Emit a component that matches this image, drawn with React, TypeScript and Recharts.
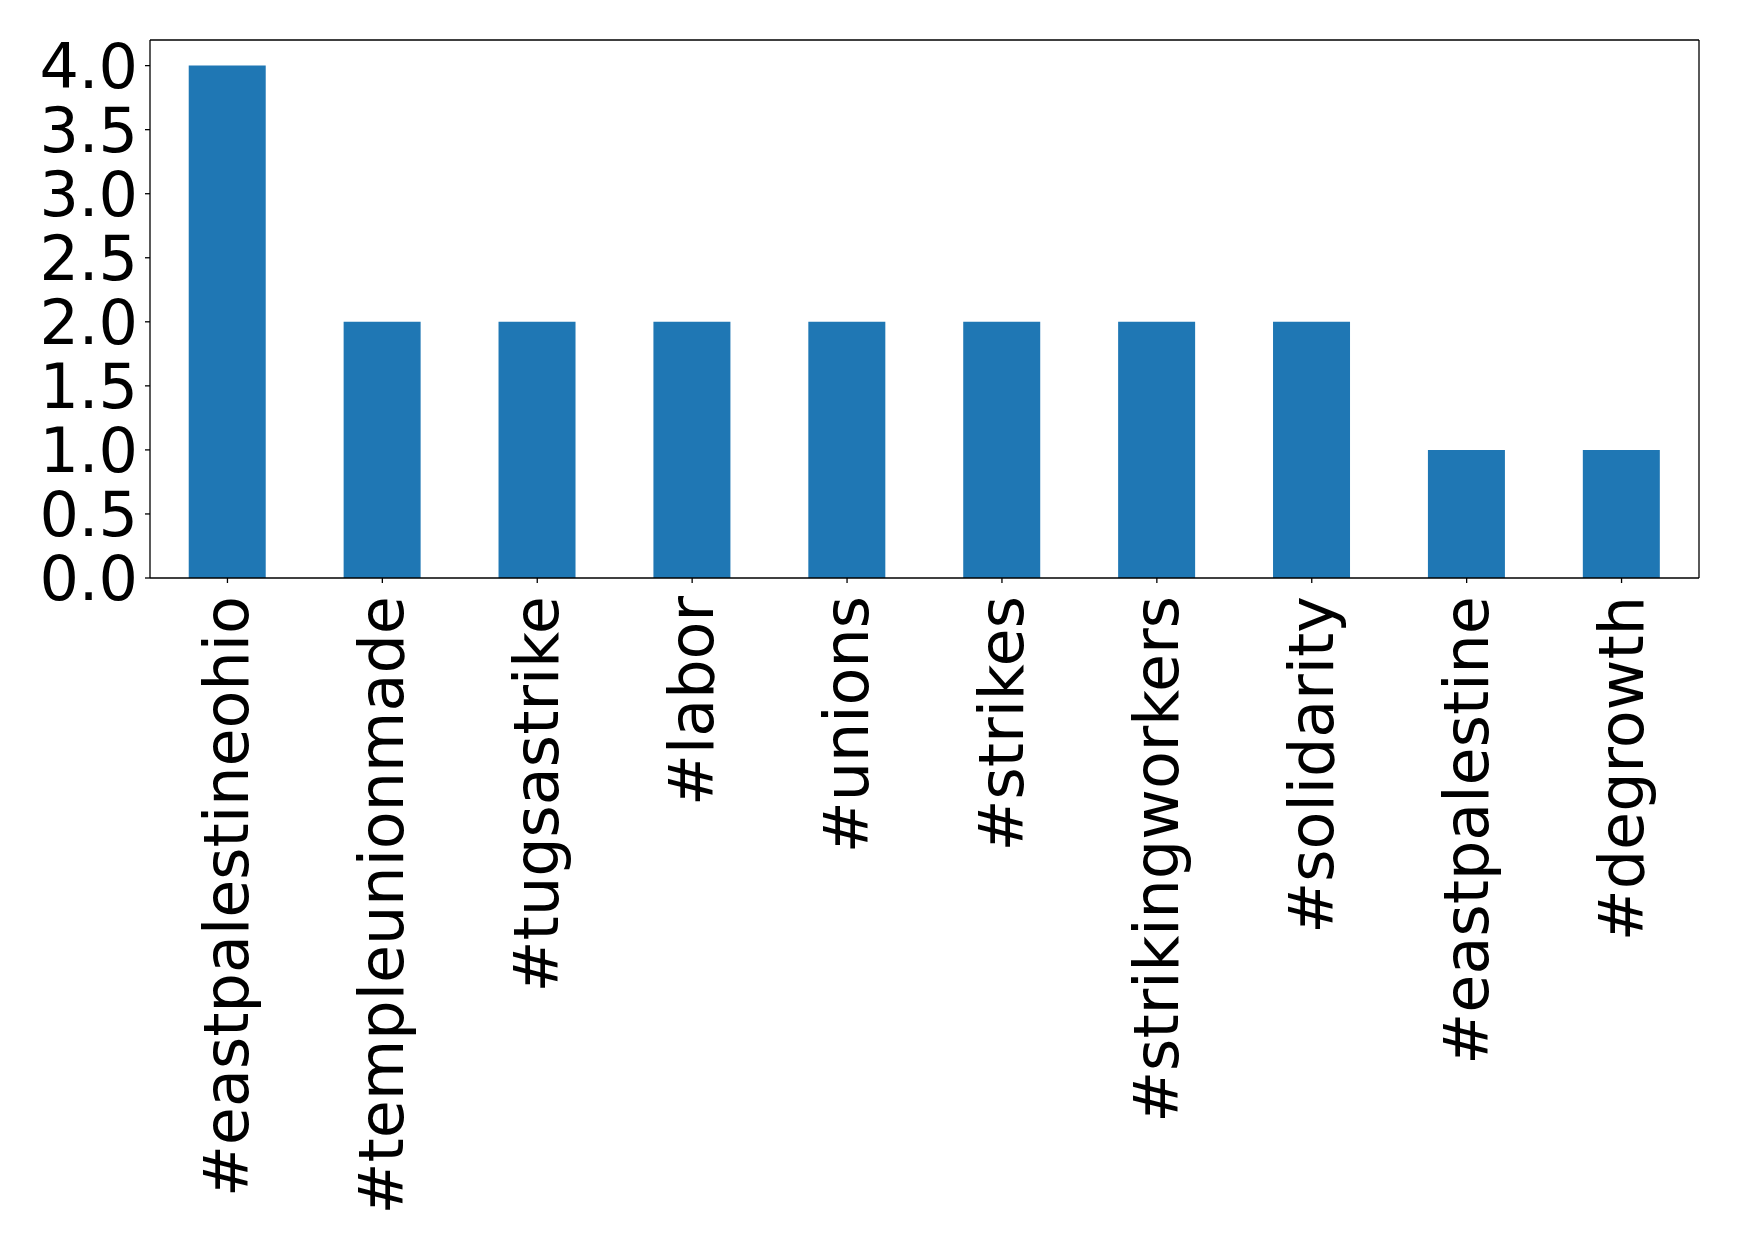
import React from 'react';
import { BarChart, Bar, XAxis, YAxis } from 'recharts';

const hashtags = [
  '#eastpalestineohio',
  '#templeunionmade',
  '#tugsastrike',
  '#labor',
  '#unions',
  '#strikes',
  '#strikingworkers',
  '#solidarity',
  '#eastpalestine',
  '#degrowth',
];

const counts = [4, 2, 2, 2, 2, 2, 2, 2, 1, 1];

const yTicks = [0, 0.5, 1, 1.5, 2, 2.5, 3, 3.5, 4];

const data = hashtags.map((tag, i) => ({ tag, count: counts[i] }));

const FONT = '"DejaVu Sans", sans-serif';

function RotatedTick(props: any) {
  const { x, y, payload } = props;
  return (
    <text
      transform={`translate(${x + 21}, ${y + 11}) rotate(-90)`}
      textAnchor="end"
      fontSize={62}
      fontFamily={FONT}
      fill="#000"
    >
      {payload.value}
    </text>
  );
}

export default function App() {
  return (
    <div style={{ position: 'absolute', left: 0, top: 0, width: 1739, height: 1251, background: '#fff' }}>
      <BarChart
        width={1739}
        height={1251}
        data={data}
        margin={{ top: 39, right: 39, left: 0, bottom: 0 }}
        barCategoryGap="25%"
      >
        <XAxis
          dataKey="tag"
          interval={0}
          height={673}
          tick={<RotatedTick />}
          tickSize={5}
          axisLine={{ stroke: '#000', strokeWidth: 1.3 }}
          tickLine={{ stroke: '#000', strokeWidth: 1.3 }}
        />
        <XAxis
          xAxisId="top"
          dataKey="tag"
          orientation="top"
          height={1}
          tick={false}
          tickLine={false}
          axisLine={{ stroke: '#000', strokeWidth: 1.3 }}
        />
        <YAxis
          domain={[0, 4.2]}
          ticks={yTicks}
          interval={0}
          width={150}
          tickSize={5}
          tickMargin={7}
          tickFormatter={(v: number) => v.toFixed(1)}
          tick={{ fontSize: 62, fontFamily: FONT, fill: '#000' }}
          axisLine={{ stroke: '#000', strokeWidth: 1.3 }}
          tickLine={{ stroke: '#000', strokeWidth: 1.3 }}
        />
        <YAxis
          yAxisId="right"
          orientation="right"
          domain={[0, 4.2]}
          width={1}
          tick={false}
          tickLine={false}
          axisLine={{ stroke: '#000', strokeWidth: 1.3 }}
        />
        <Bar dataKey="count" fill="#1f77b4" isAnimationActive={false} />
      </BarChart>
    </div>
  );
}
